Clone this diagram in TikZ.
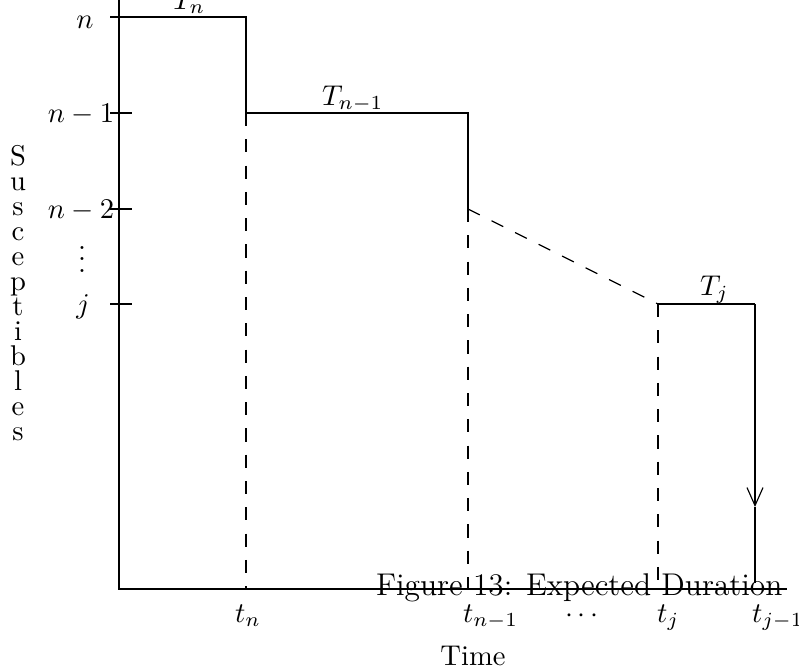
\documentclass[tikz,border=0pt]{standalone}
\usetikzlibrary{arrows.meta}
\begin{document}
\begin{tikzpicture}[x=0.35pt,y=-0.35pt,
  every node/.style={inner sep=0pt,outer sep=0pt},
  lbl/.style={anchor=base},
  lblw/.style={anchor=base west},
  dash line/.style={dash pattern=on 4.6pt off 4.6pt},
  axis line/.style={line width=0.4pt},
  plot line/.style={line width=0.4pt},
  capt/.style={anchor=base west,font=\fontsize{11}{13}\selectfont}]
\useasboundingbox (0,0) rectangle (799,669);
% key points
\coordinate (top) at (119,-20);
\coordinate (O) at (119,589);
\coordinate (xend) at (787,589);
\coordinate (p1) at (119,17);
\coordinate (p2) at (246,17);
\coordinate (p3) at (246,113);
\coordinate (p4) at (468,113);
\coordinate (p5) at (468,209);
\coordinate (p6) at (658,304);
\coordinate (p7) at (755,304);
\coordinate (pa) at (755,507);
\coordinate (p8) at (755,583);
\coordinate (b1) at (246,589);
\coordinate (b2) at (468,589);
\coordinate (b3) at (658,589);
% axes
\draw[axis line] (top) -- (O) -- (xend);
% ticks
\foreach \yy/\nm in {17/ta,113/tb,209/tc,304/td}{
  \coordinate (\nm L) at (110,\yy);
  \coordinate (\nm R) at (132,\yy);
  \draw[axis line] (\nm L) -- (\nm R);
}
% step path
\draw[plot line] (p1) -- (p2) -- (p3) -- (p4) -- (p5);
\draw[plot line,dash line] (p5) -- (p6);
\draw[plot line] (p6) -- (p7);
\draw[plot line,-{Straight Barb[length=6.3pt,width=5.6pt]}] (p7) -- (pa);
\draw[plot line] (pa) -- (p8);
% dashed verticals
\draw[plot line,dash line] (p3) -- (b1);
\draw[plot line,dash line] (p5) -- (b2);
\draw[plot line,dash line] (p6) -- (b3);
% duration labels
\node[lblw] (Tn) at (173,9) {$T_n$};
\node[lblw] (Tn1) at (322,105) {$T_{n-1}$};
\node[lblw] (Tj) at (700,295) {$T_j$};
% y labels
\node[lbl] (yn) at (85,28) {$n$};
\node[lbl] (yn1) at (81,122) {$n-1$};
\node[lbl] (yn2) at (81,218) {$n-2$};
\node[lbl] (yd) at (82,272) {$\vdots$};
\node[lbl] (yj) at (83,313) {$j$};
% x labels
\node[lbl] (xn) at (248,622) {$t_n$};
\node[lblw] (xn1) at (463,622) {$t_{n-1}$};
\node[lbl] (xd) at (582,622) {$\cdots$};
\node[lblw] (xj) at (657,622) {$t_j$};
\node[lblw] (xj1) at (752,622) {$t_{j-1}$};
% axis titles
\node[lbl] (time) at (473,665) {Time};
\foreach \c [count=\i from 0] in {S,u,s,c,e,p,t,i,b,l,e,s}{
  \node[lbl] (s\i) at (18,165+25*\i) {\c};
}
% caption
\node[capt] (cap) at (376,595) {Figure 13: Expected Duration};
\end{tikzpicture}
\end{document}
